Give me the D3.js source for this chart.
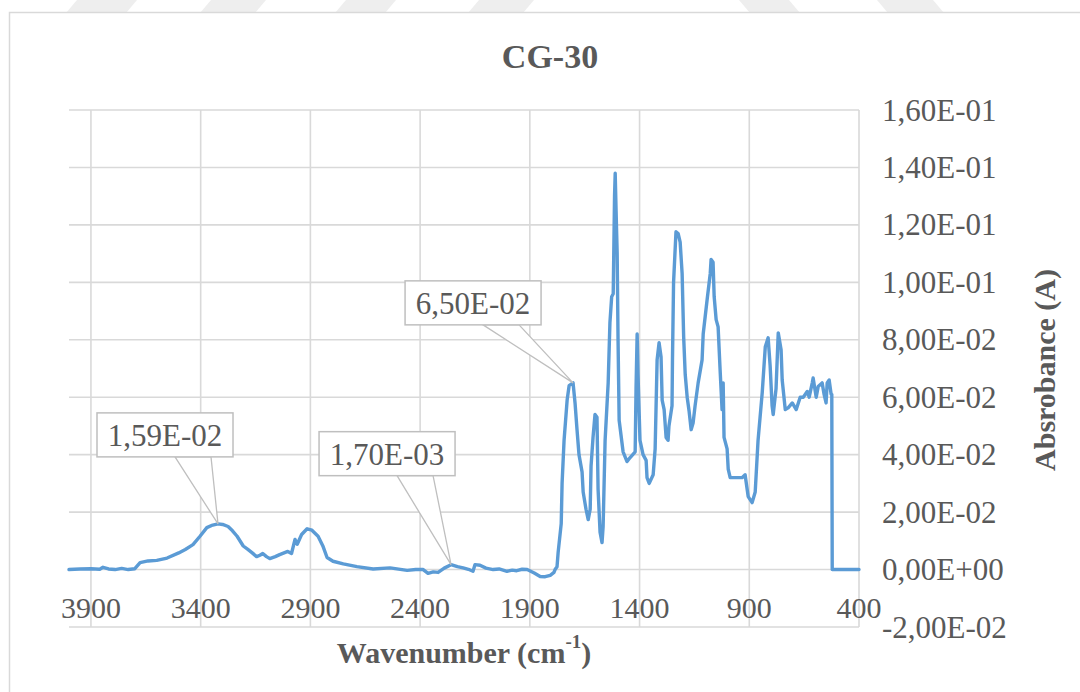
<!DOCTYPE html>
<html>
<head>
<meta charset="utf-8">
<script src="https://cdn.jsdelivr.net/npm/d3@7"></script>
<style>
  html, body { margin: 0; padding: 0; background: #fff; }
  svg { display: block; }
  text { font-family: "Liberation Serif", "Times New Roman", serif; fill: #595959; }
</style>
</head>
<body>
<svg id="chart" width="1080" height="692"></svg>
<script>
// ---------- data ----------
const title = "CG-30";
const xTitle = "Wavenumber (cm";
const yTitle = "Absrobance (A)";

const wavenumber = [4000,3950,3900,3860,3845,3820,3790,3760,3730,3700,3676,3640,3600,3553,3500,3470,3435,3403,3372,3345,3321,3300,3275,3255,3234,3206,3185,3165,3145,3130,3117,3100,3085,3060,3040,3020,3003,2986,2970,2960,2940,2915,2893,2865,2842,2824,2797,2750,2688,2614,2537,2459,2420,2386,2364,2340,2318,2290,2259,2230,2204,2180,2159,2150,2127,2100,2067,2040,2004,1980,1960,1935,1912,1880,1853,1830,1807,1790,1785,1776,1771,1757,1753,1744,1730,1721,1703,1694,1685,1676,1662,1657,1644,1634,1625,1621,1612,1603,1594,1589,1580,1571,1566,1557,1543,1535,1527,1520,1514,1511,1507,1502,1498,1493,1475,1457,1443,1420,1416,1411,1407,1398,1384,1370,1366,1356,1338,1329,1320,1311,1302,1297,1288,1279,1270,1266,1252,1250,1245,1234,1224,1215,1206,1199,1192,1183,1174,1165,1156,1147,1133,1115,1110,1101,1092,1078,1074,1065,1060,1051,1042,1033,1024,1019,1015,1001,996,987,955,933,919,905,887,873,860,841,827,814,805,796,791,778,768,755,750,736,723,704,686,668,654,636,627,613,609,595,586,568,559,550,545,536,527,524,522,400];
const absorbance = [0.0000,0.0002,0.0003,0.0001,0.0008,0.0002,0.0000,0.0004,0.0000,0.0003,0.0024,0.0030,0.0032,0.0040,0.0058,0.0070,0.0087,0.0116,0.0146,0.0155,0.0159,0.0157,0.0150,0.0135,0.0116,0.0082,0.0070,0.0058,0.0045,0.0050,0.0056,0.0045,0.0038,0.0045,0.0052,0.0058,0.0063,0.0056,0.0105,0.0088,0.0122,0.0142,0.0137,0.0116,0.0080,0.0042,0.0029,0.0020,0.0010,0.0002,0.0006,-0.0003,0.0000,0.0000,-0.0013,-0.0008,-0.0010,0.0005,0.0017,0.0010,0.0006,0.0001,-0.0006,0.0017,0.0015,0.0005,0.0000,0.0002,-0.0006,-0.0002,-0.0004,0.0001,0.0000,-0.0012,-0.0024,-0.0025,-0.0020,-0.0010,0.0000,0.0010,0.0060,0.0160,0.0300,0.0450,0.0590,0.0640,0.0650,0.0580,0.0487,0.0400,0.0340,0.0270,0.0210,0.0174,0.0210,0.0360,0.0460,0.0540,0.0530,0.0280,0.0130,0.0094,0.0150,0.0450,0.0650,0.0860,0.0950,0.0960,0.1300,0.1380,0.1250,0.1100,0.0800,0.0520,0.0410,0.0376,0.0390,0.0410,0.0630,0.0820,0.0680,0.0450,0.0400,0.0380,0.0320,0.0300,0.0330,0.0420,0.0730,0.0790,0.0740,0.0590,0.0557,0.0460,0.0450,0.0500,0.0570,0.0730,0.1000,0.1176,0.1170,0.1140,0.1030,0.0810,0.0680,0.0600,0.0550,0.0487,0.0510,0.0570,0.0650,0.0730,0.0820,0.0880,0.0940,0.1030,0.1080,0.1070,0.0950,0.0870,0.0845,0.0696,0.0557,0.0650,0.0460,0.0420,0.0350,0.0320,0.0320,0.0320,0.0330,0.0254,0.0233,0.0270,0.0450,0.0616,0.0776,0.0807,0.0710,0.0570,0.0540,0.0630,0.0824,0.0765,0.0660,0.0557,0.0563,0.0580,0.0557,0.0600,0.0600,0.0620,0.0600,0.0650,0.0667,0.0600,0.0637,0.0650,0.0610,0.0580,0.0650,0.0660,0.0610,0.0610,0.0000,0.0000];

const xTicks = [3900, 3400, 2900, 2400, 1900, 1400, 900, 400];
const yTicks = [0.16, 0.14, 0.12, 0.10, 0.08, 0.06, 0.04, 0.02, 0.00, -0.02];

const calloutWn = [3321, 2259, 1703];
const calloutVal = [0.0159, 0.0017, 0.065];
const calloutText = ["1,59E-02", "1,70E-03", "6,50E-02"];

// ---------- layout ----------
const svg = d3.select("#chart");
const plot = { left: 69, right: 859, top: 110, bottom: 627 };

// watermark stripes (decoration at the very top)
const stripes = [[66,126,1],[200,255,1],[335,385,1],[468,523,1],[750,800,-1],[888,944,-1]];
svg.append("g").selectAll("polygon").data(stripes).join("polygon")
  .attr("points", d => {
    const s = 11 * d[2];
    return `${d[0]+s},0 ${d[1]+s},0 ${d[1]},13 ${d[0]},13`;
  })
  .attr("fill", "#eeeeee");

// chart border
svg.append("rect").attr("x", 9.5).attr("y", 12.5).attr("width", 1100).attr("height", 720)
  .attr("fill", "#fff").attr("stroke", "#d9d9d9").attr("stroke-width", 1.5);

const x = d3.scaleLinear().domain([4000, 400]).range([plot.left, plot.right]);
const y = d3.scaleLinear().domain([-0.02, 0.16]).range([plot.bottom, plot.top]);

// gridlines
const grid = svg.append("g").attr("stroke", "#d9d9d9").attr("stroke-width", 1.6);
grid.selectAll("line.h").data(yTicks).join("line").attr("class", "h")
  .attr("x1", plot.left).attr("x2", plot.right)
  .attr("y1", d => y(d)).attr("y2", d => y(d));
grid.selectAll("line.v").data(xTicks).join("line").attr("class", "v")
  .attr("x1", d => x(d)).attr("x2", d => x(d))
  .attr("y1", plot.top).attr("y2", plot.bottom);

// spectrum line
const pts = wavenumber.map((w, i) => [w, absorbance[i]]);
svg.append("path").datum(pts)
  .attr("fill", "none").attr("stroke", "#5b9bd5").attr("stroke-width", 3.4)
  .attr("stroke-linejoin", "round").attr("stroke-linecap", "round")
  .attr("d", d3.line().x(d => x(d[0])).y(d => y(d[1])));

// number format like "1,60E-01"
function sci(v) {
  if (Math.abs(v) < 1e-12) return "0,00E+00";
  let e = Math.floor(Math.log10(Math.abs(v)));
  let m = v / Math.pow(10, e);
  if (Math.round(Math.abs(m) * 100) / 100 >= 10) { e += 1; m = v / Math.pow(10, e); }
  const ms = m.toFixed(2).replace(".", ",");
  const es = (e < 0 ? "-" : "+") + String(Math.abs(e)).padStart(2, "0");
  return ms + "E" + es;
}

// x tick labels (drawn inside bottom band)
svg.append("g").selectAll("text").data(xTicks).join("text")
  .attr("x", d => x(d)).attr("y", 607)
  .attr("text-anchor", "middle").attr("dominant-baseline", "central")
  .attr("font-size", 30).text(d => d);

// y tick labels (right side)
svg.append("g").selectAll("text").data(yTicks).join("text")
  .attr("x", 882).attr("y", d => y(d))
  .attr("text-anchor", "start").attr("dominant-baseline", "central")
  .attr("font-size", 31).text(d => sci(d));

// title
svg.append("text").attr("x", 550).attr("y", 56)
  .attr("text-anchor", "middle").attr("dominant-baseline", "central")
  .attr("font-size", 34).attr("font-weight", "bold").text(title);

// x axis title
const xt = svg.append("text").attr("x", 464).attr("y", 652)
  .attr("text-anchor", "middle").attr("dominant-baseline", "central")
  .attr("font-size", 30).attr("font-weight", "bold");
xt.append("tspan").text(xTitle);
xt.append("tspan").attr("dy", -11).attr("font-size", 19).text("-1");
xt.append("tspan").attr("dy", 11).text(")");

// y axis title
svg.append("text")
  .attr("transform", "translate(1044,370) rotate(-90)")
  .attr("text-anchor", "middle").attr("dominant-baseline", "central")
  .attr("font-size", 30).attr("font-weight", "bold").text(yTitle);

// callouts
const boxOff = [[-121, -111], [-132, -133], [-168, -102]]; // box top-left relative to point
const bw = 136, bh = 44;
const cg = svg.append("g");
calloutWn.forEach((w, i) => {
  const px = x(w), py = y(calloutVal[i]);
  const bx = px + boxOff[i][0], by = py + boxOff[i][1];
  cg.append("polygon")
    .attr("points", `${bx+78},${by+bh} ${px},${py} ${bx+114},${by+bh}`)
    .attr("fill", "#fff").attr("stroke", "#bfbfbf").attr("stroke-width", 1.3);
  cg.append("rect").attr("x", bx).attr("y", by).attr("width", bw).attr("height", bh)
    .attr("fill", "#fff").attr("stroke", "#bfbfbf").attr("stroke-width", 1.5);
  cg.append("text").attr("x", bx + bw / 2).attr("y", by + bh / 2 + 1)
    .attr("text-anchor", "middle").attr("dominant-baseline", "central")
    .attr("font-size", 31).text(calloutText[i]);
});
</script>
</body>
</html>
